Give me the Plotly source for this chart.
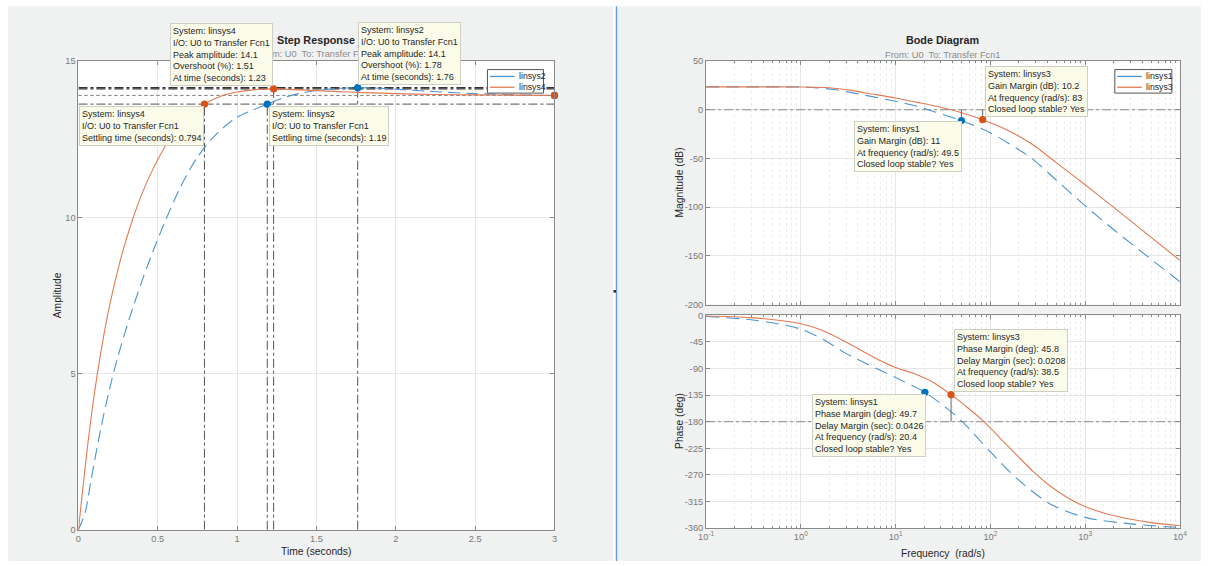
import plotly.graph_objects as go

# Figure size in CSS pixels; the page body keeps an 8 px margin around it.
W, H = 1208, 566
BODY = 8
# CSS page extent (figure + body margins) and the picture size it is shown at
PAGE_W, PAGE_H = W + 2 * BODY, H + 2 * BODY
IMG_W, IMG_H = 1208, 566
SX, SY = IMG_W / PAGE_W, IMG_H / PAGE_H

# ---------------- Step response (amplitude vs time, seconds) ----------------
t_linsys2 = [0, 0.042, 0.078, 0.116, 0.158, 0.210, 0.263, 0.336, 0.410, 0.484, 0.557,
             0.641, 0.746, 0.872, 1.0, 1.19, 1.3, 1.4, 1.5, 1.6, 1.76, 1.9, 2.0,
             2.25, 2.5, 2.75, 3.0]
a_linsys2 = [0, 0.55, 1.55, 2.6, 3.65, 4.8, 5.8, 7.0, 8.1, 9.1, 10.0,
             10.95, 11.9, 12.68, 13.2, 13.62, 13.84, 13.97, 14.06, 14.11, 14.15, 14.13, 14.10,
             14.02, 13.96, 13.92, 13.90]

t_linsys4 = [0, 0.025, 0.05, 0.075, 0.1, 0.137, 0.183, 0.231, 0.273, 0.336, 0.4,
             0.47, 0.55, 0.63, 0.71, 0.794, 0.9, 1.0, 1.1, 1.23, 1.4, 1.6, 1.8,
             2.0, 2.25, 2.5, 2.75, 3.0]
a_linsys4 = [0, 1.2, 2.35, 3.4, 4.35, 5.55, 6.85, 7.95, 8.8, 9.85, 10.75,
             11.55, 12.3, 12.88, 13.3, 13.62, 13.88, 14.01, 14.08, 14.11, 14.08, 14.03, 13.99,
             13.96, 13.93, 13.92, 13.91, 13.90]

step_systems = ["linsys2", "linsys4"]
final_value = [13.9, 13.9]
peak_time = [1.76, 1.23]
overshoot_pct = [1.78, 1.51]
settling_time = [1.19, 0.794]
t_end = 3.0

# ---------------- Bode diagram (frequency in rad/s) ----------------
w_mag_linsys1 = [0.1, 0.3, 1, 1.5, 2.24, 5, 10, 17, 25, 49.5, 100, 190, 275, 500, 1040,
                 2150, 4470, 10000]
db_linsys1 = [23.5, 23.5, 23.3, 22.5, 20.8, 14.5, 8.7, 3.5, -1.7, -11, -23.5, -39.8, -50,
              -72.5, -100, -125.5, -150, -176.5]

w_mag_linsys3 = [0.1, 0.3, 1, 2, 3.4, 5, 10, 17, 25, 45, 83, 127, 190, 286, 436, 640, 1000,
                 1990, 4830, 10000]
db_linsys3 = [23.5, 23.5, 23.4, 22.6, 19.9, 17.0, 12.1, 7.6, 4.2, -1.7, -10.2, -17.5, -26,
              -36.5, -50, -62.5, -77, -100, -130, -154.7]

w_ph_linsys1 = [0.1, 0.298, 0.568, 1, 1.76, 2.86, 5.04, 10, 20.4, 35, 52.4, 100, 191, 428,
                1000, 3230, 10000]
ph_linsys1 = [-1.7, -7.4, -14.2, -23.4, -41.6, -62.7, -82.6, -105.3, -130.3, -157.8, -182.3,
              -230.7, -276.3, -319, -341.8, -353.2, -358.9]

w_ph_linsys3 = [0.1, 0.298, 1, 1.62, 2.63, 4.27, 6.95, 10, 15.6, 25.3, 38.5, 56.8, 85.1, 127,
                190, 286, 428, 641, 1000, 2140, 4830, 10000]
ph_linsys3 = [-1.1, -3.9, -14.2, -24.5, -40.4, -58.7, -76.9, -88.3, -98.5, -113.9, -134.2,
              -155.5, -179.4, -208, -236.4, -264.9, -288.8, -307.6, -323.5, -340, -350.3, -356]

bode_systems = ["linsys1", "linsys3"]
gm_db = [11, 10.2]
gm_freq = [49.5, 83]
pm_deg = [49.7, 45.8]
pm_delay = [0.0426, 0.0208]
pm_freq = [20.4, 38.5]

step_ticks = [0, 0.5, 1, 1.5, 2, 2.5, 3]
amp_ticks = [0, 5, 10, 15]
mag_ticks = [50, 0, -50, -100, -150, -200]
phase_ticks = [0, -45, -90, -135, -180, -225, -270, -315, -360]
decade_ticks = [0.1, 1, 10, 100, 1000, 10000]
decade_text = ["10<sup>-1</sup>", "10<sup>0</sup>", "10<sup>1</sup>", "10<sup>2</sup>",
               "10<sup>3</sup>", "10<sup>4</sup>"]

# ---------------- styling ----------------
BLUE_LINE, ORANGE_LINE = "#4a94d4", "#e27a52"
BLUE_DOT, ORANGE_DOT = "#0072BD", "#D95319"
REF = "#555555"
FONT = "Liberation Sans, Arial, sans-serif"
TXT = "#262626"
FS = 1 / SY  # keeps text at its intended on-screen size
TICK_FONT = dict(family=FONT, size=9 * FS, color="#7a7a7a")


def px(x):
    """on-screen x pixel -> paper fraction"""
    return min(max((x / SX - BODY) / W, 0), 1)


def py(y):
    """on-screen y pixel -> paper fraction"""
    return min(max(1 - (y / SY - BODY) / H, 0), 1)


fig = go.Figure()

# ---- step: characteristic reference lines ----
for i, name in enumerate(step_systems):
    fv = final_value[i]
    pk = fv * (1 + overshoot_pct[i] / 100)
    band = 0.98 * fv
    fig.add_trace(go.Scatter(x=[0, t_end], y=[pk, pk], mode="lines",
                             line=dict(color="#333333", width=1.2, dash="dashdot"),
                             xaxis="x", yaxis="y", hoverinfo="skip"))
    fig.add_trace(go.Scatter(x=[peak_time[i], peak_time[i]], y=[0, pk], mode="lines",
                             line=dict(color=REF, width=1, dash="dashdot"),
                             xaxis="x", yaxis="y", hoverinfo="skip"))
    fig.add_trace(go.Scatter(x=[0, t_end], y=[band, band], mode="lines",
                             line=dict(color="#8a8a8a", width=1, dash="dashdot"),
                             xaxis="x", yaxis="y", hoverinfo="skip"))
    fig.add_trace(go.Scatter(x=[settling_time[i], settling_time[i]], y=[0, band], mode="lines",
                             line=dict(color=REF, width=1, dash="dashdot"),
                             xaxis="x", yaxis="y", hoverinfo="skip"))
    fig.add_trace(go.Scatter(x=[0, t_end], y=[fv, fv], mode="lines",
                             line=dict(color="#8a8a8a", width=1, dash="dot"),
                             xaxis="x", yaxis="y", hoverinfo="skip"))

# ---- step: responses ----
fig.add_trace(go.Scatter(x=t_linsys2, y=a_linsys2, mode="lines", name="linsys2",
                         line=dict(color=BLUE_LINE, width=1.1, dash="12px,6px",
                                   shape="spline", smoothing=0.8),
                         xaxis="x", yaxis="y"))
fig.add_trace(go.Scatter(x=t_linsys4, y=a_linsys4, mode="lines", name="linsys4",
                         line=dict(color=ORANGE_LINE, width=1.1, shape="spline", smoothing=0.8),
                         xaxis="x", yaxis="y"))

# ---- step: characteristic markers ----
for i, col in enumerate([BLUE_DOT, ORANGE_DOT]):
    fv = final_value[i]
    pk = fv * (1 + overshoot_pct[i] / 100)
    fig.add_trace(go.Scatter(x=[peak_time[i], settling_time[i], t_end],
                             y=[pk, 0.98 * fv, fv], mode="markers",
                             marker=dict(color=col, size=7.2),
                             xaxis="x", yaxis="y", cliponaxis=False))

# ---- bode: reference lines ----
fig.add_trace(go.Scatter(x=[0.1, 10000], y=[0, 0], mode="lines",
                         line=dict(color="#8a8a8a", width=1, dash="dashdot"),
                         xaxis="x2", yaxis="y2", hoverinfo="skip"))
fig.add_trace(go.Scatter(x=[0.1, 10000], y=[-180, -180], mode="lines",
                         line=dict(color="#8a8a8a", width=1, dash="dashdot"),
                         xaxis="x3", yaxis="y3", hoverinfo="skip"))

# ---- bode: curves ----
fig.add_trace(go.Scatter(x=w_mag_linsys1, y=db_linsys1, mode="lines", name="linsys1",
                         line=dict(color=BLUE_LINE, width=1.1, dash="13px,7px",
                                   shape="spline", smoothing=0.8),
                         xaxis="x2", yaxis="y2"))
fig.add_trace(go.Scatter(x=w_mag_linsys3, y=db_linsys3, mode="lines", name="linsys3",
                         line=dict(color=ORANGE_LINE, width=1.1, shape="spline", smoothing=0.8),
                         xaxis="x2", yaxis="y2"))
fig.add_trace(go.Scatter(x=w_ph_linsys1, y=ph_linsys1, mode="lines",
                         line=dict(color=BLUE_LINE, width=1.1, dash="13px,7px",
                                   shape="spline", smoothing=0.8),
                         xaxis="x3", yaxis="y3"))
fig.add_trace(go.Scatter(x=w_ph_linsys3, y=ph_linsys3, mode="lines",
                         line=dict(color=ORANGE_LINE, width=1.1, shape="spline", smoothing=0.8),
                         xaxis="x3", yaxis="y3"))

# ---- bode: margin stems and markers ----
for i, col in enumerate([BLUE_DOT, ORANGE_DOT]):
    fig.add_trace(go.Scatter(x=[gm_freq[i], gm_freq[i]], y=[-gm_db[i], 0], mode="lines",
                             line=dict(color="#666666", width=1),
                             xaxis="x2", yaxis="y2", hoverinfo="skip"))
    fig.add_trace(go.Scatter(x=[pm_freq[i], pm_freq[i]], y=[-180 + pm_deg[i], -180],
                             mode="lines", line=dict(color="#666666", width=1),
                             xaxis="x3", yaxis="y3", hoverinfo="skip"))
    fig.add_trace(go.Scatter(x=[gm_freq[i]], y=[-gm_db[i]], mode="markers",
                             marker=dict(color=col, size=7.2), xaxis="x2", yaxis="y2"))
    fig.add_trace(go.Scatter(x=[pm_freq[i]], y=[-180 + pm_deg[i]], mode="markers",
                             marker=dict(color=col, size=7.2), xaxis="x3", yaxis="y3"))

fig.update_traces(showlegend=False)

# ---------------- axes ----------------
axis_common = dict(showline=True, linecolor="#8a8a8a", linewidth=1, mirror="ticks",
                   ticks="inside", ticklen=4, tickcolor="#8a8a8a", tickfont=TICK_FONT,
                   showgrid=True, gridcolor="#e6e6e6", gridwidth=1, zeroline=False)

minor_log = dict(ticks="inside", ticklen=2, tickcolor="#8a8a8a", showgrid=True,
                 gridcolor="#ececec", griddash="dot",
                 tickvals=[k * 10 ** e for e in range(-1, 4) for k in range(2, 10)])

# axes boxes in on-screen pixels
x_step = [78.3, 554.0]
y_step = [63.3, 527.3]
x_bode = [705.5, 1179.0]
y_mag = [63.3, 304.3]
y_ph = [315.0, 525.7]

fig.update_layout(
    xaxis=dict(axis_common, domain=[px(x_step[0]), px(x_step[1])], range=[0, 3],
               tickvals=step_ticks, anchor="y"),
    yaxis=dict(axis_common, domain=[py(y_step[1]), py(y_step[0])], range=[0, 15],
               tickvals=amp_ticks, anchor="x"),
    xaxis2=dict(axis_common, type="log", domain=[px(x_bode[0]), px(x_bode[1])],
                range=[-1, 4], tickvals=decade_ticks, showticklabels=False,
                minor=minor_log, anchor="y2"),
    yaxis2=dict(axis_common, domain=[py(y_mag[1]), py(y_mag[0])], range=[-200, 50],
                tickvals=mag_ticks, ticktext=[str(v) for v in mag_ticks], anchor="x2"),
    xaxis3=dict(axis_common, type="log", domain=[px(x_bode[0]), px(x_bode[1])],
                range=[-1, 4], tickvals=decade_ticks, ticktext=decade_text,
                minor=minor_log, anchor="y3"),
    yaxis3=dict(axis_common, domain=[py(y_ph[1]), py(y_ph[0])], range=[-360, 0],
                tickvals=phase_ticks, ticktext=[str(v) for v in phase_ticks], anchor="x3"),
)

# ---------------- figure panels ----------------
shapes = [
    dict(type="rect", xref="paper", yref="paper", x0=px(8), x1=px(612.7), y0=0, y1=py(9),
         fillcolor="#f0f1f1", line_width=0, layer="below"),
    dict(type="rect", xref="paper", yref="paper", x0=px(617), x1=1, y0=0, y1=py(9),
         fillcolor="#f0f1f1", line_width=0, layer="below"),
    dict(type="line", xref="paper", yref="paper", x0=px(616), x1=px(616), y0=0, y1=py(9),
         line=dict(color="#6a9bd0", width=1.5), layer="below"),
    dict(type="rect", xref="paper", yref="paper", x0=px(613), x1=px(615.5), y0=py(292.5),
         y1=py(290), fillcolor="#222222", line_width=0, layer="below"),
]
for (xa, ya) in [(x_step, y_step), (x_bode, y_mag), (x_bode, y_ph)]:
    shapes.append(dict(type="rect", xref="paper", yref="paper", x0=px(xa[0]), x1=px(xa[1]),
                       y0=py(ya[1]), y1=py(ya[0]), fillcolor="white", line_width=0,
                       layer="below"))

# ---------------- legends ----------------
annotations = []


def legend_box(x0, y0, x1, y1, names, colors):
    shapes.append(dict(type="rect", xref="paper", yref="paper", x0=px(x0), x1=px(x1),
                       y0=py(y1), y1=py(y0), fillcolor="white",
                       line=dict(color="#555555", width=1), layer="above"))
    row_y = [y0 + 6.8, y0 + 17.5]
    for nm, col, ry in zip(names, colors, row_y):
        shapes.append(dict(type="line", xref="paper", yref="paper", x0=px(x0 + 2.5),
                           x1=px(x0 + 27), y0=py(ry), y1=py(ry),
                           line=dict(color=col, width=1.3), layer="above"))
        annotations.append(dict(xref="paper", yref="paper", x=px(x0 + 29.5), y=py(ry),
                                xanchor="left", yanchor="middle", text=nm, showarrow=False,
                                font=dict(family=FONT, size=8.5 * FS, color=TXT)))


legend_box(487, 71.7, 543, 95, step_systems, [BLUE_LINE, ORANGE_LINE])
legend_box(1114, 71.7, 1171, 95, bode_systems, [BLUE_LINE, ORANGE_LINE])


# ---------------- titles and axis labels ----------------
def label(x, y, text, size=10, color=TXT, angle=0):
    annotations.append(dict(xref="paper", yref="paper", x=px(x), y=py(y), text=text,
                            showarrow=False, xanchor="center", yanchor="middle",
                            textangle=angle,
                            font=dict(family=FONT, size=size * FS, color=color)))


sub = "From: U0\u00a0 To: Transfer Fcn1"
label(316, 42, "<b>Step Response</b>", size=10.5)
label(316, 56, sub, size=9, color="#8c8c8c")
label(942, 42, "<b>Bode Diagram</b>", size=10.5)
label(942, 57, sub, size=9, color="#8c8c8c")
label(316, 549, "Time (seconds)")
label(57, 295, "Amplitude", angle=-90)
label(942, 551, "Frequency\u00a0 (rad/s)")
label(679, 184, "Magnitude (dB)", angle=-90)
label(679, 420, "Phase (deg)", angle=-90)


# ---------------- data tips ----------------
def tip(x, y, lines):
    annotations.append(dict(xref="paper", yref="paper", x=px(x), y=py(y),
                            xanchor="left", yanchor="top", align="left",
                            text="<br>".join(lines), showarrow=False,
                            bgcolor="#fbfbea", bordercolor="#cfcfc4", borderwidth=1,
                            borderpad=2, font=dict(family=FONT, size=8.8 * FS, color=TXT)))


io = "I/O: U0 to Transfer Fcn1"
for i, (tx, ty) in zip([1, 0], [(170, 26), (358, 25)]):
    tip(tx, ty, [f"System: {step_systems[i]}", io,
                 f"Peak amplitude: {final_value[i] * (1 + overshoot_pct[i] / 100):.1f}",
                 f"Overshoot (%): {overshoot_pct[i]}",
                 f"At time (seconds): {peak_time[i]}"])
for i, (tx, ty) in zip([1, 0], [(79, 108), (269, 108)]):
    tip(tx, ty, [f"System: {step_systems[i]}", io,
                 f"Settling time (seconds): {settling_time[i]}"])

for i, (tx, ty) in zip([1, 0], [(984, 68), (853, 123)]):
    tip(tx, ty, [f"System: {bode_systems[i]}", f"Gain Margin (dB): {gm_db[i]}",
                 f"At frequency (rad/s): {gm_freq[i]}", "Closed loop stable? Yes"])
for i, (tx, ty) in zip([1, 0], [(953, 329), (811, 393)]):
    tip(tx, ty, [f"System: {bode_systems[i]}", f"Phase Margin (deg): {pm_deg[i]}",
                 f"Delay Margin (sec): {pm_delay[i]}",
                 f"At frequency (rad/s): {pm_freq[i]}", "Closed loop stable? Yes"])

fig.update_layout(
    width=W, height=H, margin=dict(l=0, r=0, t=0, b=0),
    paper_bgcolor="white", plot_bgcolor="white",
    shapes=shapes, annotations=annotations, showlegend=False,
    font=dict(family=FONT),
)

fig.write_html("out.html")
